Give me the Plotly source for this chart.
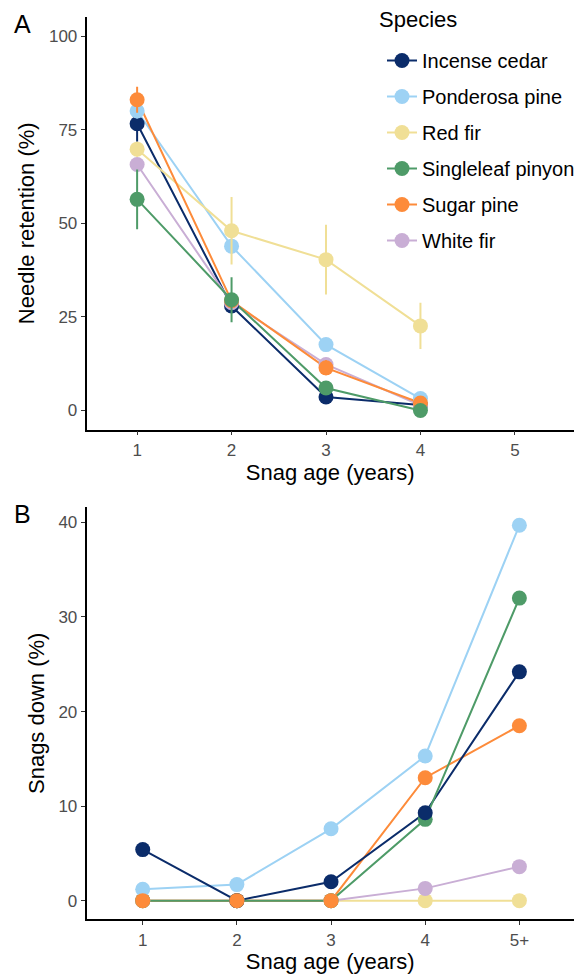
import plotly.graph_objects as go

species = ["Incense cedar", "Ponderosa pine", "Red fir", "Singleleaf pinyon", "Sugar pine", "White fir"]
colors = {"Incense cedar": "#0B2C6A", "Ponderosa pine": "#9DD2F4", "Red fir": "#F0DF96",
          "Singleleaf pinyon": "#4E9B68", "Sugar pine": "#FD8B3A", "White fir": "#C9AED5"}

# Panel A: needle retention (%) by snag age (years)
age_a = [1, 2, 3, 4]
ret_incense = [76.6, 27.9, 3.6, 1.5]
ret_ponderosa = [80.0, 43.9, 17.6, 3.2]
ret_redfir = [69.8, 48.0, 40.3, 22.6]
ret_singleleaf = [56.4, 29.6, 6.0, 0.0]
ret_sugar = [83.0, 29.3, 11.4, 2.0]
ret_whitefir = [65.7, 28.8, 12.3, 1.4]
err_incense = [4.8, 1.5, 1.0, 0.8]
err_ponderosa = [2.0, 2.0, 1.5, 1.0]
err_redfir = [2.0, 9.0, 9.3, 6.2]
err_singleleaf = [8.0, 6.0, 1.5, 0.5]
err_sugar = [3.5, 1.5, 2.0, 1.0]
err_whitefir = [1.5, 1.5, 1.0, 0.8]

# Panel B: snags down (%) by snag age
age_b = ["1", "2", "3", "4", "5+"]
down_incense = [5.4, 0.0, 2.0, 9.3, 24.2]
down_ponderosa = [1.2, 1.7, 7.6, 15.3, 39.7]
down_redfir = [0.0, 0.0, 0.0, 0.0, 0.0]
down_singleleaf = [0.0, 0.0, 0.0, 8.6, 32.0]
down_sugar = [0.0, 0.0, 0.0, 13.0, 18.5]
down_whitefir = [0.0, 0.0, 0.0, 1.3, 3.6]

ret = {"Incense cedar": (ret_incense, err_incense), "Ponderosa pine": (ret_ponderosa, err_ponderosa),
       "Red fir": (ret_redfir, err_redfir), "Singleleaf pinyon": (ret_singleleaf, err_singleleaf),
       "Sugar pine": (ret_sugar, err_sugar), "White fir": (ret_whitefir, err_whitefir)}
down = {"Incense cedar": down_incense, "Ponderosa pine": down_ponderosa, "Red fir": down_redfir,
        "Singleleaf pinyon": down_singleleaf, "Sugar pine": down_sugar, "White fir": down_whitefir}

FONT = "Liberation Sans, Arial, sans-serif"
MS = 15
LW = 2

fig = go.Figure()

# Panel A lines
order_a = ["Incense cedar", "Ponderosa pine", "Red fir", "White fir", "Sugar pine", "Singleleaf pinyon"]
for sp in order_a:
    fig.add_trace(go.Scatter(x=age_a, y=ret[sp][0], mode="lines", line=dict(color=colors[sp], width=LW),
                             showlegend=False, hoverinfo="skip", xaxis="x", yaxis="y"))
for sp in order_a:
    fig.add_trace(go.Scatter(x=age_a, y=ret[sp][0], mode="markers",
                             marker=dict(color=colors[sp], size=MS),
                             error_y=dict(type="data", array=ret[sp][1], color=colors[sp], thickness=2, width=0),
                             showlegend=False, name=sp, xaxis="x", yaxis="y"))

# Panel B lines then markers
order_b_lines = ["Red fir", "White fir", "Sugar pine", "Ponderosa pine", "Incense cedar", "Singleleaf pinyon"]
order_b_pts = ["Red fir", "White fir", "Singleleaf pinyon", "Ponderosa pine", "Incense cedar", "Sugar pine"]
for sp in order_b_lines:
    fig.add_trace(go.Scatter(x=age_b, y=down[sp], mode="lines", line=dict(color=colors[sp], width=LW),
                             showlegend=False, hoverinfo="skip", xaxis="x2", yaxis="y2"))
for sp in order_b_pts:
    fig.add_trace(go.Scatter(x=age_b, y=down[sp], mode="markers", marker=dict(color=colors[sp], size=MS),
                             showlegend=False, name=sp, xaxis="x2", yaxis="y2"))

# Legend entries
for sp in species:
    fig.add_trace(go.Scatter(x=[None], y=[None], mode="lines+markers", name=sp, legendgroup=sp,
                             line=dict(color=colors[sp], width=LW), marker=dict(color=colors[sp], size=MS),
                             xaxis="x", yaxis="y"))

W, H = 587, 974
xl, xr = 86.5 / W, 574 / W
axis_common = dict(showline=True, linecolor="black", linewidth=1.6, ticks="outside", ticklen=4,
                   tickcolor="#333333", tickwidth=1.3, showgrid=False, zeroline=False, automargin=False,
                   tickfont=dict(family=FONT, size=17, color="#4D4D4D"))

fig.update_layout(
    width=W, height=H, margin=dict(l=0, r=0, t=0, b=0),
    paper_bgcolor="white", plot_bgcolor="white",
    font=dict(family=FONT, color="black"),
    xaxis=dict(domain=[xl, xr], range=[0.464, 5.626], tickvals=[1, 2, 3, 4, 5], anchor="y",
               title=dict(text="Snag age (years)", font=dict(size=22, family=FONT), standoff=6), **axis_common),
    yaxis=dict(domain=[1 - 429.5 / H, 1 - 17 / H], range=[-5.07, 105.1], tickvals=[0, 25, 50, 75, 100], anchor="x",
               title=dict(text="Needle retention (%)", font=dict(size=22, family=FONT), standoff=8), **axis_common),
    xaxis2=dict(domain=[xl, xr], type="category", categoryorder="array", categoryarray=age_b,
                range=[-0.597, 4.58], anchor="y2",
                title=dict(text="Snag age (years)", font=dict(size=22, family=FONT), standoff=6), **axis_common),
    yaxis2=dict(domain=[1 - 919.3 / H, 1 - 507.3 / H], range=[-1.97, 41.6], tickvals=[0, 10, 20, 30, 40], anchor="x2",
                title=dict(text="Snags down (%)", font=dict(size=22, family=FONT), standoff=8), **axis_common),
    legend=dict(x=382 / W, y=1 - 41 / H, xanchor="left", yanchor="top", bgcolor="rgba(0,0,0,0)",
                font=dict(size=20, family=FONT), tracegroupgap=7, itemwidth=30),
    annotations=[
        dict(text="Species", x=377 / W, y=1 - 20 / H, xref="paper", yref="paper", xanchor="left", yanchor="middle",
             showarrow=False, font=dict(size=22, family=FONT, color="black")),
        dict(text="A", x=12 / W, y=1 - 24 / H, xref="paper", yref="paper", xanchor="left", yanchor="middle",
             showarrow=False, font=dict(size=25, family=FONT, color="black")),
        dict(text="B", x=12 / W, y=1 - 514 / H, xref="paper", yref="paper", xanchor="left", yanchor="middle",
             showarrow=False, font=dict(size=25, family=FONT, color="black")),
    ],
)

fig.write_html("out.html", config={"displayModeBar": False},
               post_script="document.body.style.margin='0';")
